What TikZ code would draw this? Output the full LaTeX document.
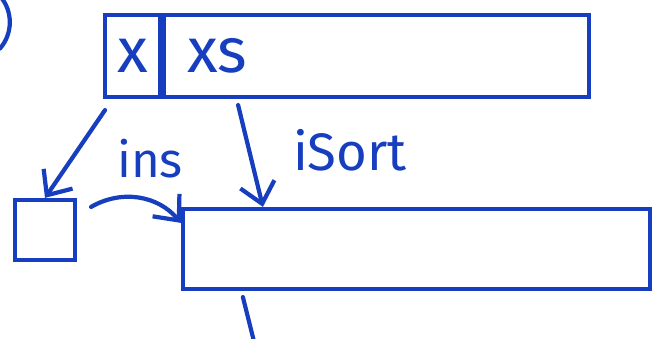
\documentclass[tikz,border=0pt]{standalone}
\usepackage{fontspec}
\setsansfont{Fira Sans}
\usepackage{tikz}
\usetikzlibrary{positioning,arrows.meta,calc}
\definecolor{marker}{RGB}{22,62,190}
\tikzset{
  cell/.style={rectangle, draw=marker, line width=2.4pt, minimum height=1.64cm,
               inner sep=0pt, font=\sffamily\fontsize{36}{40}\selectfont, text=marker},
  slot/.style={rectangle, draw=marker, line width=2.4pt, inner sep=0pt},
  fnarrow/.style={-{Straight Barb[length=4mm, width=7mm, line width=2.4pt]},
                  line width=2.4pt, marker, line cap=round},
  fnlbl/.style={font=\sffamily\fontsize{28}{32}\selectfont, text=marker, inner sep=1pt},
  stroke/.style={line width=2.4pt, marker, line cap=round}
}

\begin{document}
\begin{tikzpicture}[]
\useasboundingbox (0,0) rectangle (13.06,-6.76);
\node[cell, minimum width=1.1cm] (xcell) at (2.65,-1.12) {x};
\node[cell, minimum width=8.5cm, anchor=west] (xscell) at (xcell.east) {};
\node[fnlbl, font=\sffamily\fontsize{36}{40}\selectfont] at ($(xscell.west)+(1.1,0)$) {xs};
\node[slot, minimum width=1.2cm, minimum height=1.2cm] (sq) at (0.9,-4.6) {};
\node[slot, minimum width=9.34cm, minimum height=1.6cm] (lowbox) at (8.33,-4.98) {};
\draw[fnarrow] ($(xcell.south)+(-0.55,-0.22)$) -- (sq.north);
\draw[fnarrow] ($(sq.north east)+(0.28,-0.18)$) to[bend left=40] ($(lowbox.north west)+(0,-0.32)$);
\node[fnlbl] at (3.0,-3.18) {ins};
\draw[fnarrow] ($(xscell.south west)+(1.52,-0.12)$) -- ($(lowbox.north west)+(1.64,0)$);
\node[fnlbl, font=\sffamily\fontsize{30}{34}\selectfont] at (7.0,-3.0) {iSort};
\coordinate (tail) at ($(lowbox.south west)+(1.3,-0.02)$);
\draw[stroke] ($(tail)+(-0.06,-0.1)$) -- ($(tail)+(0.16,-0.98)$);
\draw[stroke] (0,0.08) arc[start angle=41, end angle=-41, radius=0.8];
\end{tikzpicture}
\end{document}
